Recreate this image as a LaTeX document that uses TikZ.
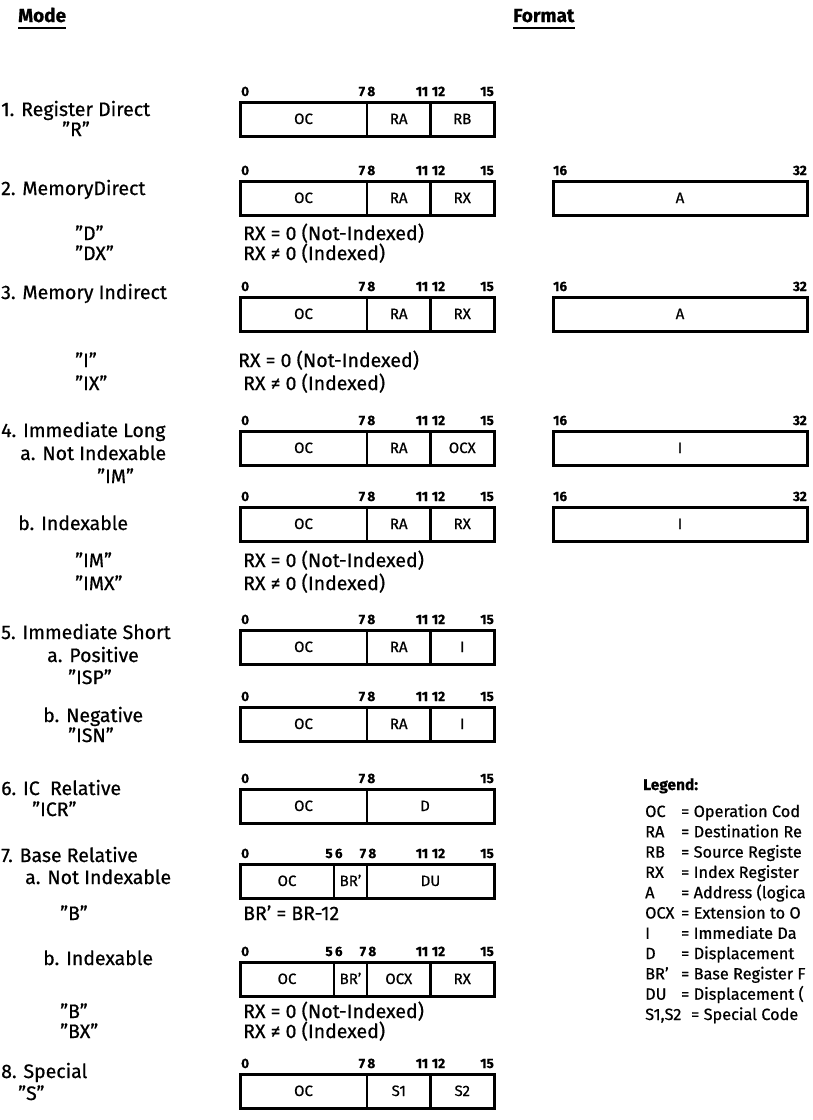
\documentclass[tikz,border=0pt]{standalone}
\usepackage{fontspec}
\setmainfont{Fira Sans}[FakeBold=0.6]
\begin{document}
\begin{tikzpicture}[x=1pt,y=-1pt,
  lbl/.style={anchor=base west,inner sep=0,font=\fontsize{19.5}{23}\selectfont},
  bits/.style={inner sep=0,font=\bfseries\fontsize{13.5}{16}\selectfont},
  fld/.style={anchor=base,inner sep=0,font=\fontsize{15}{18}\selectfont},
  leg/.style={anchor=base west,inner sep=0,font=\fontsize{16.3}{19}\selectfont},
  ttl/.style={anchor=base west,inner sep=0,font=\bfseries\fontsize{19}{22}\selectfont},
  boxline/.style={line width=3pt},
  divline/.style={line width=2.4pt}]
\useasboundingbox (0,0) rectangle (812,1120);
\fill[white] (0,0) rectangle (812,1120);

\newcommand\wframe[1]{\draw[boxline] (240,#1) rectangle (494,{#1+34});}
\newcommand\wdiv[2]{\draw[divline] (#1,#2) -- (#1,{#2+34});}
\newcommand\bitl[5]{\node[bits,anchor=#3] (#1) at (#2,{#4-6}) {#5};}
\newcommand\stdword[4]{%
  \wframe{#2}\wdiv{367}{#2}\wdiv{430.5}{#2}
  \bitl{#1b0}{241}{base west}{#2}{0}
  \bitl{#1b8}{367}{base}{#2}{7\,8}
  \bitl{#1b12}{430.5}{base}{#2}{11\;12}
  \bitl{#1b15}{494}{base east}{#2}{15}
  \node[fld] (#1oc) at (303.5,{#2+22}) {OC};
  \node[fld] (#1f2) at (398.75,{#2+22}) {#3};
  \node[fld] (#1f3) at (462.25,{#2+22}) {#4};}
\newcommand\extword[3]{%
  \draw[boxline] (553,#2) rectangle (807,{#2+34});
  \bitl{#1e16}{553}{base west}{#2}{16}
  \bitl{#1e32}{807}{base east}{#2}{32}
  \node[fld] (#1ef) at (680,{#2+22}) {#3};}

% titles
\node[ttl] (mode) at (18,22) {Mode};
\draw[line width=2pt] ([yshift=-6pt]mode.base west) -- ([yshift=-6pt]mode.base east);
\node[ttl] (format) at (513,22) {Format};
\draw[line width=2pt] ([yshift=-6pt]format.base west) -- ([yshift=-6pt]format.base east);

% 1
\node[lbl] (m1) at (1,116) {1. Register Direct};
\node[lbl] (m1q) at (62,136) {"R"};
\stdword{w1}{102}{RA}{RB}

% 2
\node[lbl] (m2) at (1,195) {2. MemoryDirect};
\stdword{w2}{181}{RA}{RX}
\extword{e2}{181}{A}
\node[lbl] (m2d) at (75,240) {"D"};
\node[lbl] (m2dx) at (75,260) {"DX"};
\node[lbl] (c2a) at (243,240) {RX = 0 (Not-Indexed)};
\node[lbl] (c2b) at (243,260) {RX ≠ 0 (Indexed)};

% 3
\node[lbl] (m3) at (1,299) {3. Memory Indirect};
\stdword{w3}{297}{RA}{RX}
\extword{e3}{297}{A}
\node[lbl] (m3i) at (75,367) {"I"};
\node[lbl] (m3ix) at (75,390) {"IX"};
\node[lbl] (c3a) at (238,367) {RX = 0 (Not-Indexed)};
\node[lbl] (c3b) at (243,390) {RX ≠ 0 (Indexed)};

% 4
\node[lbl] (m4) at (1,437) {4. Immediate Long};
\node[lbl] (m4a) at (20,460) {a. Not Indexable};
\node[lbl] (m4aq) at (97,483) {"IM"};
\stdword{w4a}{431}{RA}{OCX}
\extword{e4a}{431}{I}
\node[lbl] (m4b) at (18,530) {b. Indexable};
\stdword{w4b}{507}{RA}{RX}
\extword{e4b}{507}{I}
\node[lbl] (m4bq1) at (75,567) {"IM"};
\node[lbl] (m4bq2) at (75,590) {"IMX"};
\node[lbl] (c4a) at (243,567) {RX = 0 (Not-Indexed)};
\node[lbl] (c4b) at (243,590) {RX ≠ 0 (Indexed)};

% 5
\node[lbl] (m5) at (1,639) {5. Immediate Short};
\node[lbl] (m5a) at (47,662) {a. Positive};
\node[lbl] (m5aq) at (68,684) {"ISP"};
\stdword{w5a}{630}{RA}{I}
\node[lbl] (m5b) at (43,722) {b. Negative};
\node[lbl] (m5bq) at (68,742) {"ISN"};
\stdword{w5b}{707}{RA}{I}

% 6
\node[lbl] (m6) at (1,795) {6. IC\ \ Relative};
\node[lbl] (m6q) at (32,816) {"ICR"};
\wframe{789}\wdiv{367}{789}
\bitl{w6b0}{241}{base west}{789}{0}
\bitl{w6b8}{367}{base}{789}{7\,8}
\bitl{w6b15}{494}{base east}{789}{15}
\node[fld] (w6oc) at (303.5,811) {OC};
\node[fld] (w6d) at (425,811) {D};

% 7
\node[lbl] (m7) at (1,862) {7. Base Relative};
\node[lbl] (m7a) at (25,884) {a. Not Indexable};
\wframe{864}\wdiv{334}{864}\wdiv{367}{864}
\bitl{w7ab0}{241}{base west}{864}{0}
\bitl{w7ab6}{334}{base}{864}{5\,6}
\bitl{w7ab8}{368}{base}{864}{7\,8}
\bitl{w7ab12}{430.5}{base}{864}{11\;12}
\bitl{w7ab15}{494}{base east}{864}{15}
\node[fld] (w7aoc) at (287,886) {OC};
\node[fld] (w7abr) at (350.5,886) {BR'};
\node[fld] (w7adu) at (430.5,886) {DU};
\node[lbl] (m7aq) at (60,920) {"B"};
\node[lbl] (c7a) at (243,920) {BR' = BR-12};

\node[lbl] (m7b) at (43,965) {b. Indexable};
\wframe{962}\wdiv{334}{962}\wdiv{367}{962}\wdiv{430.5}{962}
\bitl{w7bb0}{241}{base west}{962}{0}
\bitl{w7bb6}{334}{base}{962}{5\,6}
\bitl{w7bb8}{368}{base}{962}{7\,8}
\bitl{w7bb12}{430.5}{base}{962}{11\;12}
\bitl{w7bb15}{494}{base east}{962}{15}
\node[fld] (w7boc) at (287,984) {OC};
\node[fld] (w7bbr) at (350.5,984) {BR'};
\node[fld] (w7bocx) at (398.75,984) {OCX};
\node[fld] (w7brx) at (462.25,984) {RX};
\node[lbl] (m7bq1) at (60,1018) {"B"};
\node[lbl] (m7bq2) at (60,1038) {"BX"};
\node[lbl] (c7b1) at (243,1018) {RX = 0 (Not-Indexed)};
\node[lbl] (c7b2) at (243,1038) {RX ≠ 0 (Indexed)};

% 8
\node[lbl] (m8) at (1,1078) {8. Special};
\node[lbl] (m8q) at (18,1100) {"S"};
\stdword{w8}{1074}{S1}{S2}

% legend
\node[leg,font=\bfseries\fontsize{15.5}{18}\selectfont] (legend) at (643,790) {Legend:};
\foreach \k/\v [count=\i] in {OC/Operation Cod, RA/Destination Re, RB/Source Registe,
  RX/Index Register, A/Address (logica, OCX/Extension to O, I/Immediate Da,
  D/Displacement, BR'/Base Register F, DU/Displacement (}{
  \node[leg] (lk\i) at (645,{817+(\i-1)*20.3}) {\k};
  \node[leg] (lv\i) at (681,{817+(\i-1)*20.3}) {= \v};
}
\node[leg] (lk11) at (645,{817+10*20.3}) {S1,S2};
\node[leg] (lv11) at (691,{817+10*20.3}) {= Special Code};
\end{tikzpicture}
\end{document}
